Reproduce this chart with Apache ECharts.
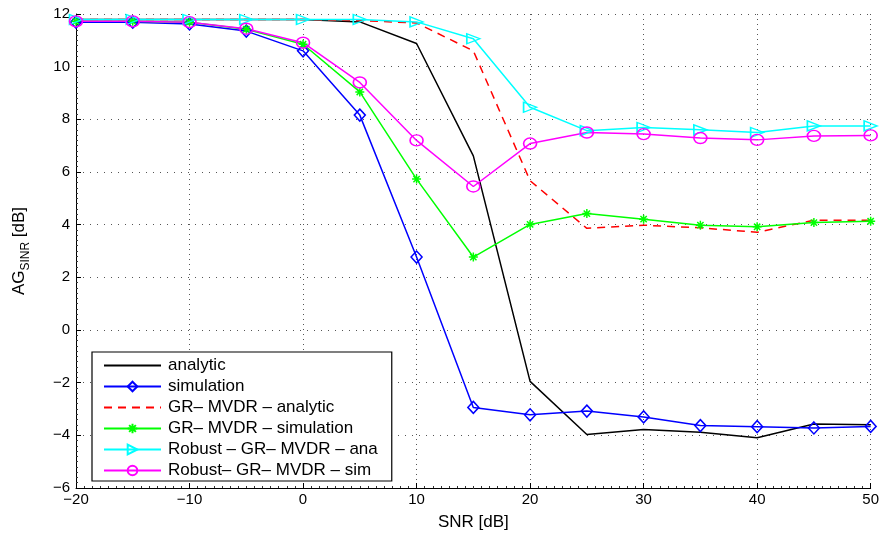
<!DOCTYPE html>
<html><head><meta charset="utf-8">
<script src="https://cdn.jsdelivr.net/npm/echarts@6/dist/echarts.min.js"></script>
<style>html,body{margin:0;padding:0;background:#fff}#c{width:882px;height:536px}</style>
</head><body><div id="c"></div>
<script>
// ---- data ----
const snr = [-20,-15,-10,-5,0,5,10,15,20,25,30,35,40,45,50];
const analytic   = [11.79,11.79,11.79,11.79,11.79,11.70,10.88,6.61,-1.95,-3.97,-3.78,-3.88,-4.09,-3.57,-3.60];
const simulation = [11.69,11.69,11.62,11.35,10.60,8.16,2.77,-2.94,-3.22,-3.08,-3.30,-3.63,-3.67,-3.72,-3.66];
const grAnalytic = [11.79,11.79,11.79,11.79,11.79,11.75,11.66,10.60,5.67,3.86,3.98,3.88,3.71,4.17,4.17];
const grSimulation = [11.72,11.72,11.69,11.42,10.85,9.04,5.73,2.77,4.01,4.42,4.21,3.98,3.92,4.08,4.13];
const robustAnalytic = [11.79,11.79,11.79,11.79,11.79,11.79,11.70,11.06,8.46,7.57,7.69,7.60,7.50,7.75,7.75];
const robustSimulation = [11.72,11.72,11.69,11.44,10.91,9.40,7.20,5.45,7.08,7.50,7.44,7.29,7.22,7.37,7.39];
const seriesNames = ['analytic','simulation','GR\u2013 MVDR \u2013 analytic','GR\u2013 MVDR \u2013 simulation','Robust \u2013 GR\u2013 MVDR \u2013 ana','Robust\u2013 GR\u2013 MVDR \u2013 sim'];
const xTicks = {min:-20, max:50, interval:10};
const yTicks = {min:-6, max:12, interval:2};

const FONT = 'Liberation Sans, Arial, Helvetica, sans-serif';
const pair = d => snr.map((x,i)=>[x,d[i]]);
const minus = v => String(v).replace('-', '\u2212');

function mk(name, data, color, sym, size, extra) {
  const s = {
    name, type:'line', data: pair(data),
    symbol: sym, symbolSize: size, showSymbol: sym !== 'none',
    lineStyle: {color, width: 1.5},
    itemStyle: {color: 'rgba(0,0,0,0)', borderColor: color, borderWidth: 1.5},
    emphasis: {disabled: true}, animation: false
  };
  return Object.assign(s, extra || {});
}

const asterisk = 'path://M10,0L10,20M0,10L20,10M3,3L17,17M3,17L17,3';

const series = [
  mk(seriesNames[0], analytic, '#000000', 'none', 0),
  mk(seriesNames[1], simulation, '#0000ff', 'diamond', [11,12]),
  mk(seriesNames[2], grAnalytic, '#ff0000', 'none', 0),
  mk(seriesNames[3], grSimulation, '#00ff00', asterisk, 9),
  mk(seriesNames[4], robustAnalytic, '#00ffff', 'triangle', [10,13], {symbolRotate: -90}),
  mk(seriesNames[5], robustSimulation, '#ff00ff', 'circle', [13,11])
];
series[2].lineStyle.type = [8,6];

const legendData = seriesNames.map((n, i) => (i === 0 || i === 2)
  ? {name: n, itemStyle: {opacity: 0, borderWidth: 0, color: 'rgba(0,0,0,0)'}}
  : {name: n});

const chart = echarts.init(document.getElementById('c'), null, {renderer:'canvas'});
chart.setOption({
  backgroundColor: '#fff',
  animation: false,
  textStyle: {fontFamily: FONT},
  grid: {left: 76, right: 11, top: 14, bottom: 41, containLabel: false},
  xAxis: {
    type: 'value', min: xTicks.min, max: xTicks.max, interval: xTicks.interval,
    name: 'SNR [dB]', nameLocation: 'middle', nameGap: 26,
    nameTextStyle: {fontSize: 17, color: '#000', fontFamily: FONT},
    axisLine: {show: true, onZero: false, lineStyle: {color: '#000', width: 1}},
    axisTick: {show: true, inside: true, length: 5, lineStyle: {color: '#000'}},
    minorTick: {show: true, splitNumber: 14, length: 2, lineStyle: {color: '#333'}},
    axisLabel: {fontSize: 15, color: '#000', margin: 4, fontFamily: FONT, formatter: minus},
    splitLine: {show: true, lineStyle: {color: '#555', width: 1, type: [1,4]}}
  },
  yAxis: {
    type: 'value', min: yTicks.min, max: yTicks.max, interval: yTicks.interval,
    name: '{a|AG}{s|SINR}{a| [dB]}', nameLocation: 'middle', nameGap: 44, nameRotate: 90,
    nameTextStyle: {color:'#000', rich: {
      a: {fontSize: 17, fontFamily: FONT, color:'#000', lineHeight: 26, verticalAlign:'middle'},
      s: {fontSize: 12, fontFamily: FONT, color:'#000', lineHeight: 10, verticalAlign:'bottom'}
    }},
    axisLine: {show: true, onZero: false, lineStyle: {color: '#000', width: 1}},
    axisTick: {show: true, inside: true, length: 5, lineStyle: {color: '#000'}},
    minorTick: {show: true, splitNumber: 10, length: 2, lineStyle: {color: '#333'}},
    axisLabel: {fontSize: 15, color: '#000', margin: 6, fontFamily: FONT, formatter: minus},
    splitLine: {show: true, lineStyle: {color: '#555', width: 1, type: [1,6]}}
  },
  legend: {
    show: true, orient: 'vertical', left: 92, top: 352,
    data: legendData,
    itemWidth: 57, itemHeight: 12, itemGap: 4,
    backgroundColor: '#fff', borderColor: '#000', borderWidth: 1.2, borderRadius: 0,
    padding: [5, 14, 2, 11],
    textStyle: {fontSize: 17, color: '#000', fontFamily: FONT, padding:[0,0,0,2]},
    selectedMode: false
  },
  series
});
</script>
</body></html>
